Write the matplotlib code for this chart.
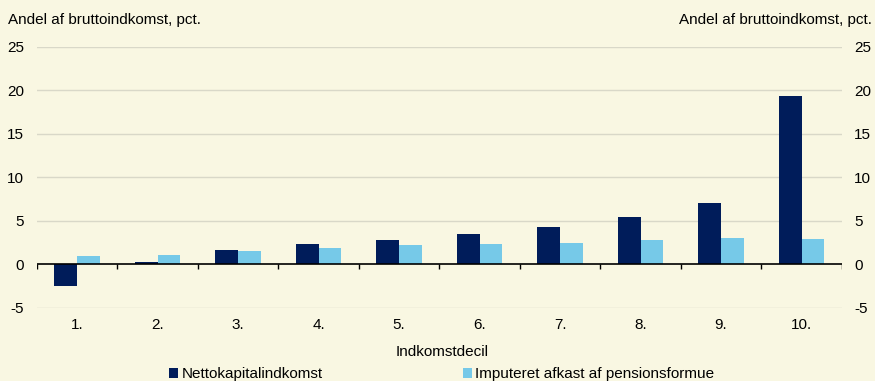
import numpy as np
import matplotlib.pyplot as plt

plt.rcParams['font.family'] = ['Liberation Sans', 'DejaVu Sans']

# Data
deciles = ['1.', '2.', '3.', '4.', '5.', '6.', '7.', '8.', '9.', '10.']
netto = [-2.5, 0.3, 1.7, 2.3, 2.85, 3.5, 4.35, 5.45, 7.1, 19.4]
pension = [1.0, 1.1, 1.5, 1.9, 2.2, 2.35, 2.5, 2.8, 3.0, 2.9]
yticks = [-5, 0, 5, 10, 15, 20, 25]

bg = '#F9F7E2'
dark = '#001C5A'
light = '#76C9E8'
fs = 11

fig = plt.figure(figsize=(8.75, 3.81), dpi=100, facecolor=bg)
ax = fig.add_axes([0.042, 0.192, 0.920, 0.685])
ax.set_facecolor(bg)

x = np.arange(len(deciles))
w = 0.285
ax.bar(x - w / 2, netto, w, color=dark, label='Nettokapitalindkomst', zorder=3)
ax.bar(x + w / 2, pension, w, color=light, label='Imputeret afkast af pensionsformue', zorder=3)

ax.set_xlim(-0.5, len(deciles) - 0.5)
ax.set_ylim(-5, 25)

# gridlines
for y in yticks:
    if y != 0:
        ax.axhline(y, color='#D9D8C8', lw=1, zorder=1)
ax.axhline(0, color='black', lw=1.2, zorder=4)

# tick marks on the zero line at category boundaries
ax.vlines(np.arange(-0.5, len(deciles)), -0.55, 0, color='black', lw=1, zorder=4)

for s in ax.spines.values():
    s.set_visible(False)

ax.set_xticks(x)
ax.set_xticklabels(deciles, fontsize=fs)
ax.tick_params(axis='x', length=0, pad=7)
ax.set_yticks(yticks)
ax.set_yticklabels([str(v) for v in yticks], fontsize=fs)
ax.tick_params(axis='y', length=0, pad=9, labelright=True, right=False)

fig.text(0.009, 0.948, 'Andel af bruttoindkomst, pct.', fontsize=fs, ha='left', va='center')
fig.text(0.996, 0.948, 'Andel af bruttoindkomst, pct.', fontsize=fs, ha='right', va='center')
fig.text(0.505, 0.076, 'Indkomstdecil', fontsize=fs, ha='center', va='center')

fig.legend(loc='center', bbox_to_anchor=(0.505, 0.018), ncol=2, frameon=False,
           fontsize=fs, handlelength=0.6, handleheight=0.6, handletextpad=0.2,
           columnspacing=9.2)

fig.savefig('out.png', dpi=100, facecolor=bg)
